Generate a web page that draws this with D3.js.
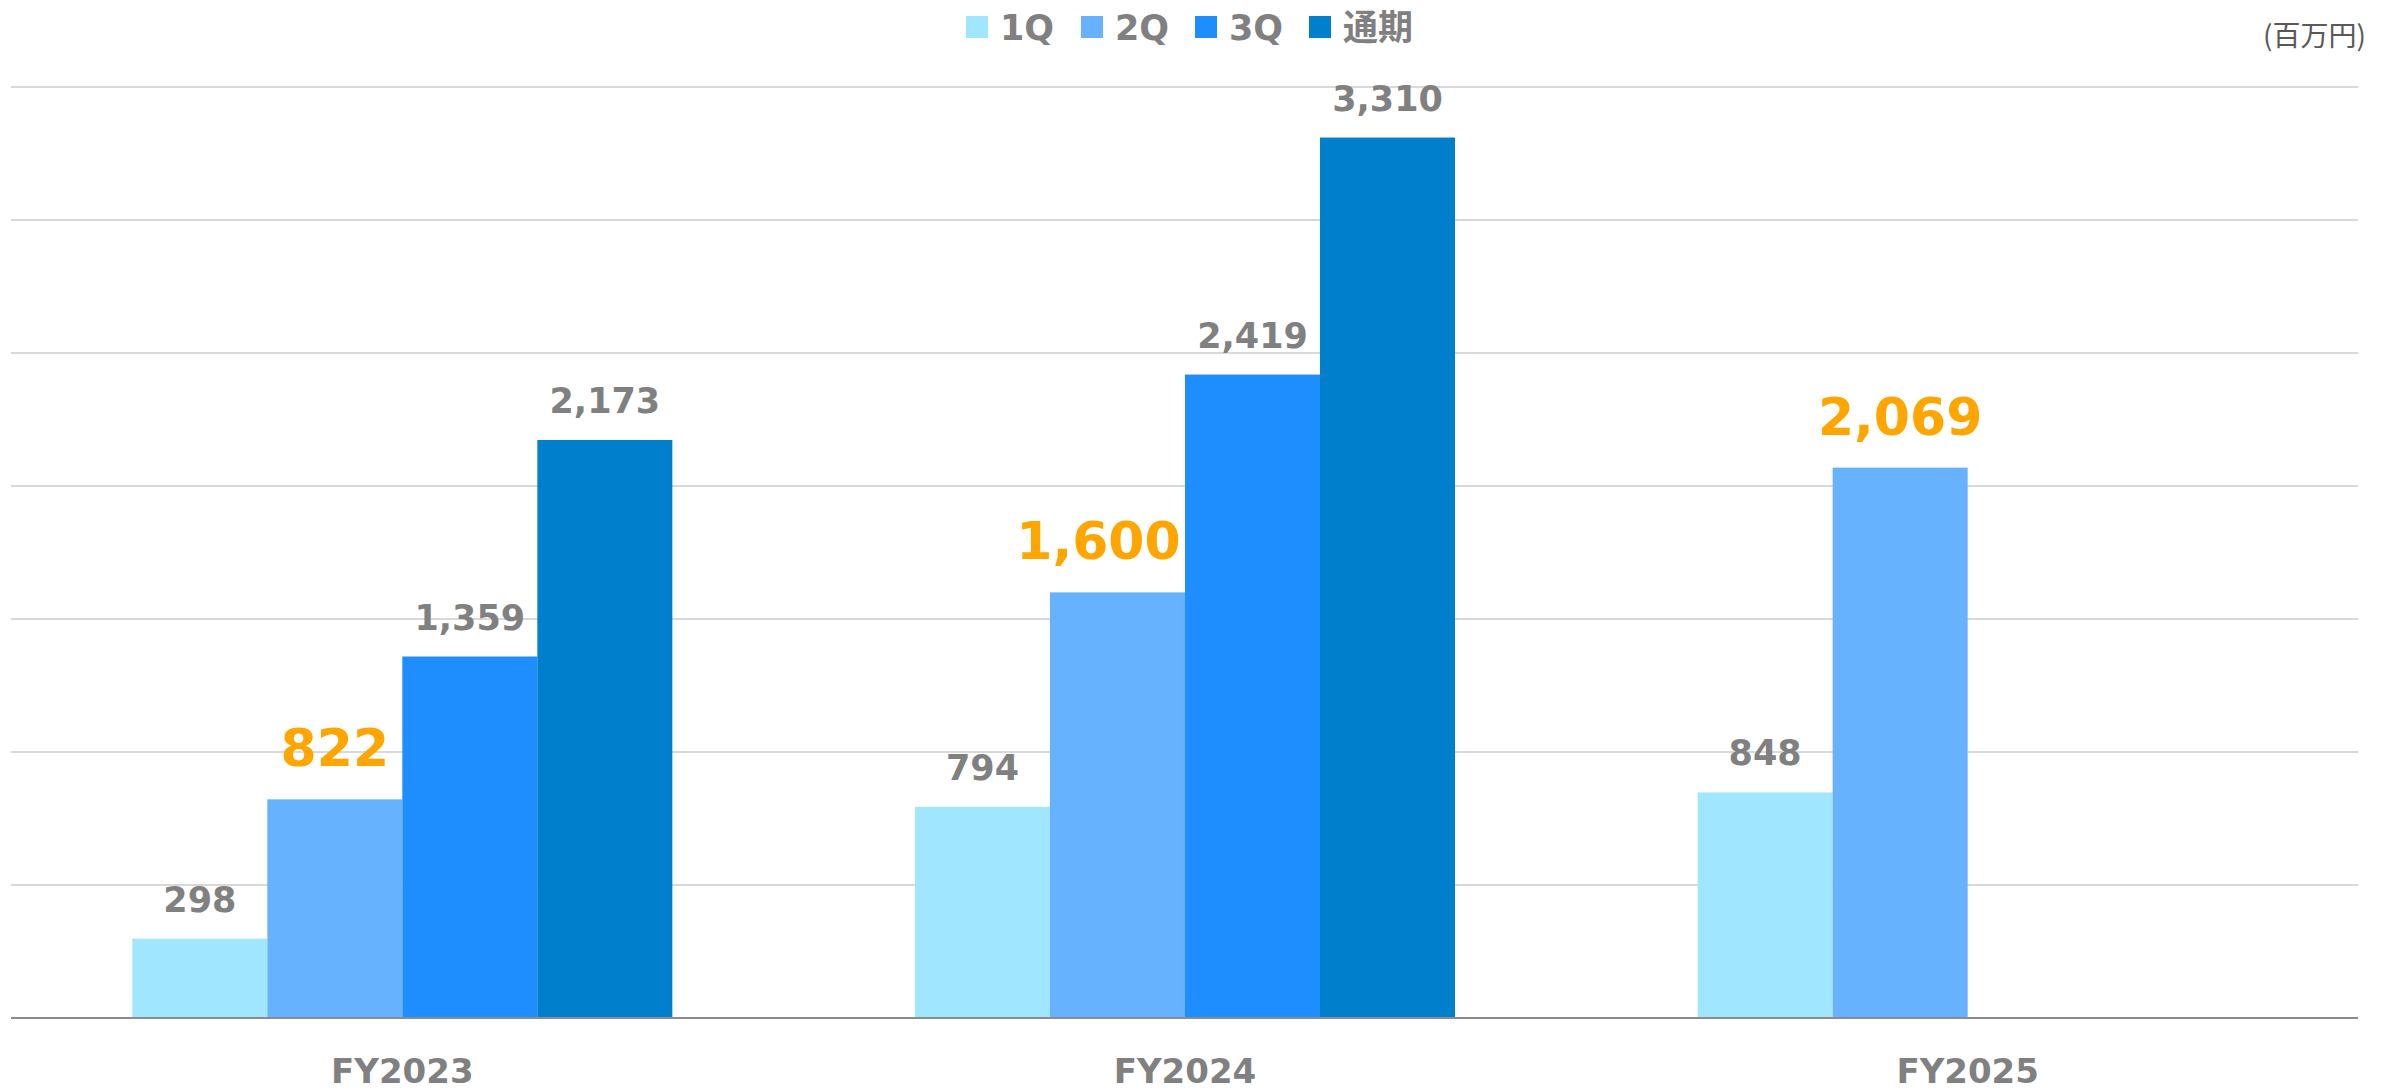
<!DOCTYPE html>
<html>
<head>
<meta charset="utf-8">
<script src="https://cdn.jsdelivr.net/npm/d3@7"></script>
<style>
  html, body { margin: 0; padding: 0; background: #ffffff; }
  svg { display: block; }
</style>
</head>
<body>
<svg id="chart" width="2397" height="1090"></svg>
<script>
// ---- data ----
const categories = ["FY2023", "FY2024", "FY2025"];
const seriesNames = ["1Q", "2Q", "3Q", "通期"];
const q1 = [298, 794, 848];
const q2 = [822, 1600, 2069];
const q3 = [1359, 2419, null];
const full = [2173, 3310, null];
const yTicks = [0, 500, 1000, 1500, 2000, 2500, 3000, 3500];
// labels highlighted in orange (series per category)
const highlightSeries = ["2Q", "2Q", "2Q"];
const unitLabel = "(百万円)";

const seriesValues = [q1, q2, q3, full];
const colors = ["#a0e6ff", "#66b2ff", "#1e8eff", "#007fcd"];

// ---- layout ----
const plotLeft = 11, plotRight = 2358, plotTop = 87, plotBottom = 1018;
const svg = d3.select("#chart");
const font = "'DejaVu Sans', 'Noto Sans CJK JP', sans-serif";
// the reference's "1,600" label sits slightly left of its bar
const labelShift = { "FY2024|2Q": -19 };

const y = d3.scaleLinear().domain([0, 3500]).range([plotBottom, plotTop]);
const x0 = d3.scaleBand().domain(categories).range([plotLeft, 2359]).padding(0);
const bw0 = x0.bandwidth();
const x1 = d3.scaleBand().domain(seriesNames).range([0.155 * bw0, 0.845 * bw0]).padding(0);

// gridlines
svg.append("g").selectAll("line").data(yTicks.filter(d => d > 0)).join("line")
  .attr("x1", plotLeft).attr("x2", plotRight)
  .attr("y1", d => y(d)).attr("y2", d => y(d))
  .attr("stroke", "#d9d9d9").attr("stroke-width", 2);

// bars
const rows = [];
categories.forEach((c, i) => {
  seriesNames.forEach((s, j) => {
    const v = seriesValues[j][i];
    if (v != null) rows.push({ cat: c, ser: s, idx: j, value: v, hl: highlightSeries[i] === s });
  });
});

svg.append("g").selectAll("rect").data(rows).join("rect")
  .attr("x", d => x0(d.cat) + x1(d.ser))
  .attr("width", x1.bandwidth())
  .attr("y", d => y(d.value))
  .attr("height", d => y(0) - y(d.value))
  .attr("fill", d => colors[d.idx]);

// baseline
svg.append("line")
  .attr("x1", plotLeft).attr("x2", plotRight)
  .attr("y1", y(0)).attr("y2", y(0))
  .attr("stroke", "#8c8c8c").attr("stroke-width", 2);

// value labels
const fmt = d3.format(",");
svg.append("g").selectAll("text").data(rows).join("text")
  .attr("x", d => x0(d.cat) + x1(d.ser) + x1.bandwidth() / 2 + (labelShift[d.cat + "|" + d.ser] || 0))
  .attr("y", d => y(d.value) - (d.hl ? 33 : 27))
  .attr("text-anchor", "middle")
  .attr("font-family", font)
  .attr("font-weight", "bold")
  .attr("font-size", d => d.hl ? 52 : 35)
  .attr("fill", d => d.hl ? "#ffa500" : "#808080")
  .text(d => fmt(d.value));

// category axis labels
svg.append("g").selectAll("text").data(categories).join("text")
  .attr("x", d => x0(d) + bw0 / 2)
  .attr("y", 1083)
  .attr("text-anchor", "middle")
  .attr("font-family", font)
  .attr("font-weight", "bold")
  .attr("font-size", 34)
  .attr("fill", "#808080")
  .text(d => d);

// legend
const legendX = [966, 1081, 1195, 1309];
const lg = svg.append("g").selectAll("g").data(seriesNames).join("g")
  .attr("transform", (d, i) => `translate(${legendX[i]},0)`);
lg.append("rect").attr("x", 0).attr("y", 16).attr("width", 22).attr("height", 22)
  .attr("fill", (d, i) => colors[i]);
lg.append("text").attr("x", 34).attr("y", 40)
  .attr("font-family", font).attr("font-weight", "bold").attr("font-size", 35)
  .attr("fill", "#808080").text(d => d);

// unit label
svg.append("text")
  .attr("x", 2366).attr("y", 46)
  .attr("text-anchor", "end")
  .attr("font-family", "'Noto Sans CJK JP', 'DejaVu Sans', sans-serif")
  .attr("font-size", 28)
  .attr("fill", "#595959")
  .text(unitLabel);
</script>
</body>
</html>
